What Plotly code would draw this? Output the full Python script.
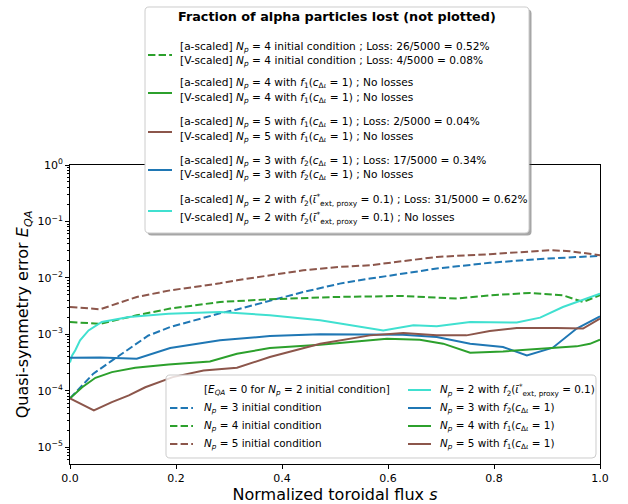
import plotly.graph_objects as go

# ---------------- data ----------------
s_np3_ic = [0.0, 0.044, 0.079, 0.111, 0.148, 0.189, 0.283, 0.315, 0.440, 0.509, 0.566, 0.692, 0.792, 0.896, 1.0]
E_np3_ic = [7.3e-5, 2.0e-4, 3.4e-4, 5.5e-4, 9.5e-4, 1.34e-3, 2.35e-3, 2.75e-3, 5.6e-3, 7.9e-3, 9.7e-3, 1.46e-2, 1.85e-2, 2.18e-2, 2.45e-2]

s_np4_ic = [0.0, 0.057, 0.126, 0.189, 0.283, 0.377, 0.503, 0.628, 0.730, 0.792, 0.868, 0.930, 0.968, 1.0]
E_np4_ic = [1.65e-3, 1.53e-3, 2.17e-3, 2.85e-3, 3.73e-3, 4.17e-3, 4.58e-3, 4.77e-3, 4.29e-3, 4.91e-3, 5.39e-3, 4.91e-3, 3.73e-3, 4.91e-3]

s_np5_ic = [0.0, 0.057, 0.126, 0.189, 0.283, 0.315, 0.440, 0.509, 0.566, 0.692, 0.792, 0.868, 0.906, 0.943, 1.0]
E_np5_ic = [3.04e-3, 2.77e-3, 4.58e-3, 6.0e-3, 8.0e-3, 9.06e-3, 1.36e-2, 1.56e-2, 1.67e-2, 2.35e-2, 2.62e-2, 2.88e-2, 3.09e-2, 2.97e-2, 2.52e-2]

s_np2_f2 = [0.0, 0.004, 0.010, 0.019, 0.035, 0.060, 0.111, 0.186, 0.283, 0.377, 0.472, 0.591, 0.648, 0.692, 0.755, 0.843, 0.887, 0.930, 1.0]
E_np2_f2 = [3.17e-4, 4.2e-4, 5.2e-4, 7.8e-4, 1.17e-3, 1.65e-3, 2.02e-3, 2.32e-3, 2.48e-3, 2.17e-3, 1.77e-3, 1.17e-3, 1.44e-3, 1.38e-3, 1.65e-3, 1.61e-3, 1.97e-3, 3.04e-3, 5.26e-3]

s_np3_f2 = [0.0, 0.057, 0.126, 0.189, 0.283, 0.377, 0.472, 0.628, 0.692, 0.755, 0.817, 0.862, 0.911, 0.956, 1.0]
E_np3_f2 = [3.84e-4, 3.89e-4, 3.69e-4, 5.69e-4, 7.8e-4, 9.29e-4, 9.96e-4, 9.84e-4, 8.92e-4, 6.81e-4, 5.93e-4, 4.22e-4, 5.78e-4, 1.26e-3, 2.08e-3]

s_np4_f1 = [0.0, 0.023, 0.048, 0.079, 0.123, 0.186, 0.264, 0.315, 0.377, 0.472, 0.598, 0.660, 0.704, 0.755, 0.817, 0.868, 0.956, 0.981, 1.0]
E_np4_f1 = [7.3e-5, 1.15e-4, 1.69e-4, 2.13e-4, 2.55e-4, 2.92e-4, 3.30e-4, 4.52e-4, 5.69e-4, 6.53e-4, 8.35e-4, 8.02e-4, 6.81e-4, 4.71e-4, 4.97e-4, 5.32e-4, 6.10e-4, 6.76e-4, 8.02e-4]

s_np5_f1 = [0.0, 0.045, 0.079, 0.111, 0.142, 0.194, 0.252, 0.315, 0.377, 0.472, 0.566, 0.629, 0.692, 0.748, 0.792, 0.843, 0.918, 0.968, 1.0]
E_np5_f1 = [7.3e-5, 4.45e-5, 6.25e-5, 8.22e-5, 1.15e-4, 1.74e-4, 2.28e-4, 2.55e-4, 3.94e-4, 6.81e-4, 9.55e-4, 1.05e-3, 9.55e-4, 9.55e-4, 1.14e-3, 1.29e-3, 1.29e-3, 1.26e-3, 1.89e-3]

x_tick_vals = [0.0, 0.2, 0.4, 0.6, 0.8, 1.0]
x_tick_text = ["0.0", "0.2", "0.4", "0.6", "0.8", "1.0"]
y_tick_vals = [1e-5, 1e-4, 1e-3, 1e-2, 1e-1, 1e0]
y_tick_text = ["10<sup>\u22125</sup>", "10<sup>\u22124</sup>", "10<sup>\u22123</sup>",
               "10<sup>\u22122</sup>", "10<sup>\u22121</sup>", "10<sup>0</sup>"]

NP = "<i>N</i><sub><i>p</i></sub>"
F1C = "<i>f</i><sub>1</sub>(<i>c</i><sub>\u0394<i>\u03b9</i></sub> = 1)"
F2C = "<i>f</i><sub>2</sub>(<i>c</i><sub>\u0394<i>\u03b9</i></sub> = 1)"
F2I = "<i>f</i><sub>2</sub>(<i>\u1fd1</i><sup>*</sup><sub>ext, proxy</sub> = 0.1)"

top_title = "Fraction of alpha particles lost (not plotted)"
top_lines = [
    ["[a-scaled] " + NP + " = 4 initial condition ; Loss: 26/5000 = 0.52%",
     "[V-scaled] " + NP + " = 4 initial condition ; Loss: 4/5000 = 0.08%"],
    ["[a-scaled] " + NP + " = 4 with " + F1C + " ; No losses",
     "[V-scaled] " + NP + " = 4 with " + F1C + " ; No losses"],
    ["[a-scaled] " + NP + " = 5 with " + F1C + " ; Loss: 2/5000 = 0.04%",
     "[V-scaled] " + NP + " = 5 with " + F1C + " ; No losses"],
    ["[a-scaled] " + NP + " = 3 with " + F2C + " ; Loss: 17/5000 = 0.34%",
     "[V-scaled] " + NP + " = 3 with " + F2C + " ; No losses"],
    ["[a-scaled] " + NP + " = 2 with " + F2I + " ; Loss: 31/5000 = 0.62%",
     "[V-scaled] " + NP + " = 2 with " + F2I + " ; No losses"],
]

bottom_col1 = ["[<i>E</i><sub><i>QA</i></sub> = 0 for " + NP + " = 2 initial condition]",
               NP + " = 3 initial condition",
               NP + " = 4 initial condition",
               NP + " = 5 initial condition"]
bottom_col2 = [NP + " = 2 with " + F2I,
               NP + " = 3 with " + F2C,
               NP + " = 4 with " + F1C,
               NP + " = 5 with " + F1C]

# ---------------- styling / layout ----------------
W, H = 628, 504
L, R, T, B = 70, 28, 165, 40
PW = W - L - R
PH = H - T - B
FONT = "DejaVu Sans"
BLUE, GREEN, BROWN, CYAN = "#1f77b4", "#2ca02c", "#8c564b", "#40e0d0"
DASH = "7.4px,3.2px"
LEG_FS = 10.6
LEG2_FS = 10.4


def xp(px):
    return (px - L) / PW


def yp(py):
    return (H - B - py) / PH


def rrect(x0, y0, x1, y1, r):
    pts = [("M", x0 + r, y0), ("L", x1 - r, y0), ("Q", x1, y0, x1, y0 + r),
           ("L", x1, y1 - r), ("Q", x1, y1, x1 - r, y1), ("L", x0 + r, y1),
           ("Q", x0, y1, x0, y1 - r), ("L", x0, y0 + r), ("Q", x0, y0, x0 + r, y0)]
    out = []
    for p in pts:
        cmd = p[0]
        coords = p[1:]
        segs = []
        for i in range(0, len(coords), 2):
            segs.append("%.5f,%.5f" % (xp(coords[i]), yp(coords[i + 1])))
        out.append(cmd + " " + " ".join(segs))
    return " ".join(out) + " Z"


fig = go.Figure()

series = [
    (s_np3_ic, E_np3_ic, BLUE, DASH),
    (s_np4_ic, E_np4_ic, GREEN, DASH),
    (s_np5_ic, E_np5_ic, BROWN, DASH),
    (s_np2_f2, E_np2_f2, CYAN, "solid"),
    (s_np3_f2, E_np3_f2, BLUE, "solid"),
    (s_np4_f1, E_np4_f1, GREEN, "solid"),
    (s_np5_f1, E_np5_f1, BROWN, "solid"),
]
for s, e, c, d in series:
    fig.add_trace(go.Scatter(x=s, y=e, mode="lines",
                             line=dict(color=c, width=2, dash=d),
                             showlegend=False, hoverinfo="skip"))

shapes = []
annotations = []

# top legend box with shadow
TOP_BOX = (145, 7, 529, 233)
shapes.append(dict(type="path", xref="paper", yref="paper", layer="above",
                   path=rrect(TOP_BOX[0] + 2.5, TOP_BOX[1] + 2.5, TOP_BOX[2] + 2.5, TOP_BOX[3] + 2.5, 4),
                   fillcolor="rgba(77,77,77,0.5)", line=dict(width=0)))
shapes.append(dict(type="path", xref="paper", yref="paper", layer="above",
                   path=rrect(*TOP_BOX, 4),
                   fillcolor="white", line=dict(color="#cccccc", width=1)))

annotations.append(dict(xref="paper", yref="paper", x=xp(176), y=yp(16),
                        xanchor="left", yanchor="middle", showarrow=False,
                        text="<b>" + top_title + "</b>",
                        font=dict(family=FONT, size=12.8, color="black")))

top_styles = [(GREEN, DASH), (GREEN, "solid"), (BROWN, "solid"), (BLUE, "solid"), (CYAN, "solid")]
top_line_y = [(46.7, 60.7), (83.3, 98.3), (122.3, 136.7), (160.7, 175.0), (200.0, 218.3)]
top_sample_y = [55, 93, 132, 170, 211]
for (c, d), (ya, yb), ys, lines in zip(top_styles, top_line_y, top_sample_y, top_lines):
    shapes.append(dict(type="line", xref="paper", yref="paper", layer="above",
                       x0=xp(148), x1=xp(172), y0=yp(ys), y1=yp(ys),
                       line=dict(color=c, width=2, dash=d)))
    for yy, txt in zip((ya, yb), lines):
        annotations.append(dict(xref="paper", yref="paper", x=xp(178), y=yp(yy),
                                xanchor="left", yanchor="middle", showarrow=False,
                                text=txt, font=dict(family=FONT, size=LEG_FS, color="black")))

# bottom legend
shapes.append(dict(type="path", xref="paper", yref="paper", layer="above",
                   path=rrect(166, 375, 596, 458, 4),
                   fillcolor="rgba(255,255,255,0.8)", line=dict(color="#cccccc", width=1)))
row_y = [390, 408, 426, 444]
col1_styles = [None, (BLUE, DASH), (GREEN, DASH), (BROWN, DASH)]
col2_styles = [(CYAN, "solid"), (BLUE, "solid"), (GREEN, "solid"), (BROWN, "solid")]
for yy, st, txt in zip(row_y, col1_styles, bottom_col1):
    if st is not None:
        shapes.append(dict(type="line", xref="paper", yref="paper", layer="above",
                           x0=xp(170), x1=xp(193), y0=yp(yy), y1=yp(yy),
                           line=dict(color=st[0], width=2, dash=st[1])))
    annotations.append(dict(xref="paper", yref="paper", x=xp(202), y=yp(yy),
                            xanchor="left", yanchor="middle", showarrow=False,
                            text=txt, font=dict(family=FONT, size=LEG2_FS, color="black")))
for yy, st, txt in zip(row_y, col2_styles, bottom_col2):
    shapes.append(dict(type="line", xref="paper", yref="paper", layer="above",
                       x0=xp(408), x1=xp(431), y0=yp(yy), y1=yp(yy),
                       line=dict(color=st[0], width=2, dash=st[1])))
    annotations.append(dict(xref="paper", yref="paper", x=xp(438), y=yp(yy),
                            xanchor="left", yanchor="middle", showarrow=False,
                            text=txt, font=dict(family=FONT, size=LEG2_FS, color="black")))

minor_vals = [k * 10.0 ** e for e in range(-6, 0) for k in range(2, 10)]

fig.update_layout(
    width=W, height=H,
    margin=dict(l=L, r=R, t=T, b=B, autoexpand=False),
    paper_bgcolor="white", plot_bgcolor="white",
    font=dict(family=FONT, size=11, color="black"),
    shapes=shapes, annotations=annotations,
    showlegend=False,
    xaxis=dict(range=[0, 1], tickmode="array", tickvals=x_tick_vals, ticktext=x_tick_text,
               ticks="outside", ticklen=4, tickwidth=1, tickcolor="black",
               showline=True, linecolor="black", linewidth=1, mirror=True,
               showgrid=False, zeroline=False, automargin=False,
               tickfont=dict(family=FONT, size=11, color="black"),
               title=dict(text="Normalized toroidal flux <i>s</i>", standoff=4,
                          font=dict(family=FONT, size=16, color="black"))),
    yaxis=dict(type="log", range=[-5.3, 0], tickmode="array", tickvals=y_tick_vals, ticktext=y_tick_text,
               ticks="outside", ticklen=4, tickwidth=1, tickcolor="black",
               minor=dict(tickmode="array", tickvals=minor_vals, ticks="outside", ticklen=2,
                          tickwidth=0.8, tickcolor="black", showgrid=False),
               showline=True, linecolor="black", linewidth=1, mirror=True,
               showgrid=False, zeroline=False, automargin=False,
               tickfont=dict(family=FONT, size=11, color="black"),
               title=dict(text="Quasi-symmetry error <i>E</i><sub><i>QA</i></sub>", standoff=4,
                          font=dict(family=FONT, size=16, color="black"))),
)

fig.write_html("out.html", config={"displayModeBar": False},
               post_script="document.body.style.margin='0';document.body.style.padding='0';")
